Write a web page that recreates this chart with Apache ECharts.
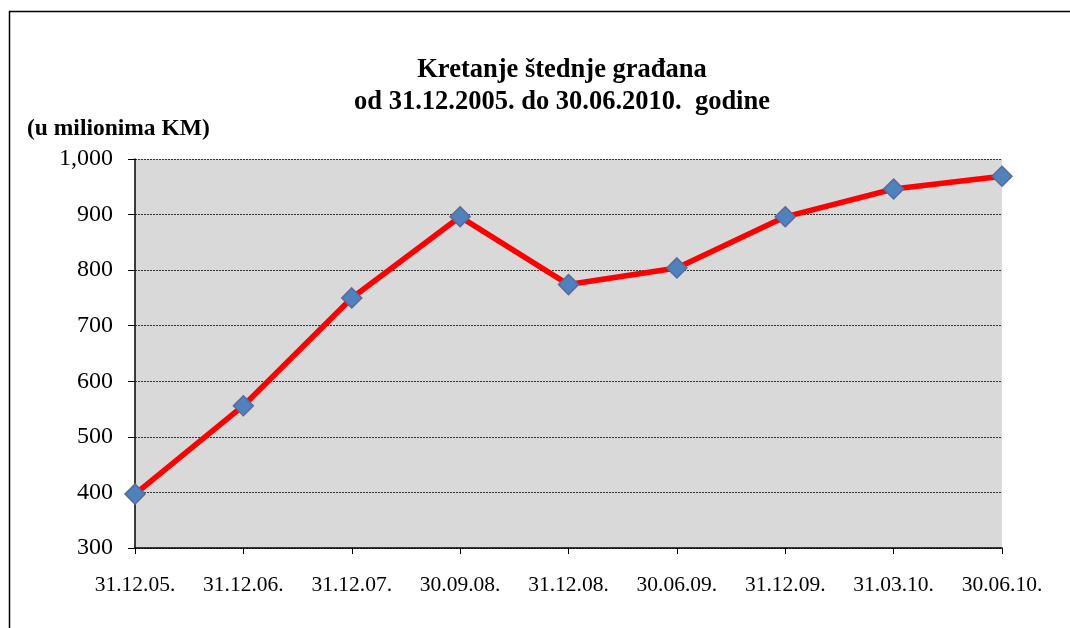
<!DOCTYPE html>
<html>
<head>
<meta charset="utf-8">
<script src="https://cdn.jsdelivr.net/npm/echarts@6/dist/echarts.min.js"></script>
<style>
    html, body { margin: 0; padding: 0; background: #fff; }
    #chart { width: 1070px; height: 628px; }
</style>
</head>
<body>
<div id="chart"></div>
<script>
    var dates = ['31.12.05.', '31.12.06.', '31.12.07.', '30.09.08.', '31.12.08.',
        '30.06.09.', '31.12.09.', '31.03.10.', '30.06.10.'];
    var stednja = [397, 556, 750, 896, 774, 804, 896, 946, 969];
    var yTicks = [300, 400, 500, 600, 700, 800, 900, 1000];

    var chart = echarts.init(document.getElementById('chart'));

    var option = {
        backgroundColor: '#fff',
        animation: false,
        graphic: [{
            type: 'polyline',
            shape: { points: [[9.5, 628], [9.5, 11.5], [1070, 11.5]] },
            style: { stroke: '#000', lineWidth: 1.5, fill: null }
        }],
        title: [{
            text: 'Kretanje štednje građana\nod 31.12.2005. do 30.06.2010.  godine',
            left: 557,
            top: 49,
            textAlign: 'center',
            textStyle: {
                fontFamily: 'Liberation Serif',
                fontWeight: 'bold',
                fontSize: 26.5,
                lineHeight: 32,
                color: '#000'
            }
        }, {
            text: '(u milionima KM)',
            left: 22,
            top: 112,
            textStyle: {
                fontFamily: 'Liberation Serif',
                fontWeight: 'bold',
                fontSize: 23.5,
                color: '#000'
            }
        }],
        grid: {
            left: 135,
            right: 68,
            top: 159,
            bottom: 80,
            show: true,
            backgroundColor: '#d9d9d9',
            borderWidth: 0
        },
        xAxis: {
            type: 'category',
            data: dates,
            boundaryGap: false,
            axisLine: { lineStyle: { color: '#000', width: 1.5 } },
            axisTick: { show: true, length: 6, lineStyle: { color: '#000' } },
            axisLabel: {
                fontFamily: 'Liberation Serif',
                fontSize: 21.5,
                color: '#000',
                margin: 26
            },
            splitLine: { show: false }
        },
        yAxis: {
            type: 'value',
            min: yTicks[0],
            max: yTicks[yTicks.length - 1],
            interval: 100,
            axisLine: { show: true, lineStyle: { color: '#000', width: 1.5 } },
            axisTick: { show: true, length: 7, lineStyle: { color: '#000' } },
            axisLabel: {
                fontFamily: 'Liberation Serif',
                fontSize: 24,
                color: '#000',
                margin: 22,
                formatter: function (v) {
                    return v.toLocaleString('en-US');
                }
            },
            splitLine: {
                show: true,
                lineStyle: { color: '#333', type: [2, 1], width: 1 }
            }
        },
        series: [{
            name: 'Štednja',
            type: 'line',
            data: stednja,
            symbol: 'diamond',
            symbolSize: 20,
            lineStyle: { color: '#ff0000', width: 5.5 },
            itemStyle: { color: '#4f81bd', borderColor: '#5b6a9a', borderWidth: 1.5 },
            z: 5
        }]
    };

    chart.setOption(option);
</script>
</body>
</html>
